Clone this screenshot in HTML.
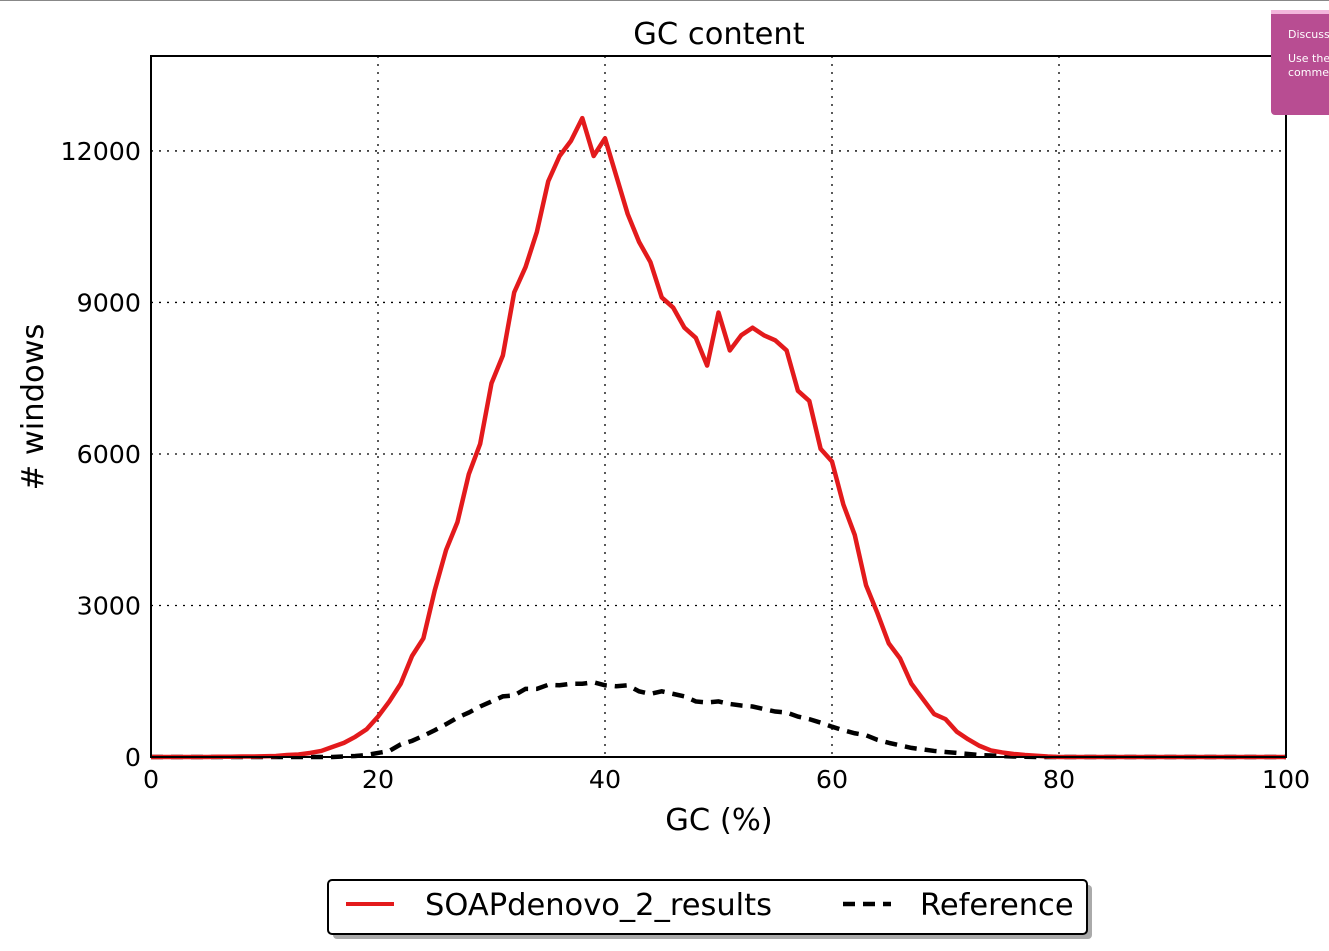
<!DOCTYPE html>
<html><head><meta charset="utf-8"><style>
body{margin:0;background:#fff;width:1329px;height:951px;overflow:hidden;font-family:"DejaVu Sans","Liberation Sans",sans-serif}
svg{position:absolute;left:0;top:0}
</style></head><body>
<svg width="1329" height="951">
<line x1="0" y1="0.5" x2="1329" y2="0.5" stroke="#888"/>
<text x="719" y="44" text-anchor="middle" font-size="30.5">GC content</text>
<g id="grid"></g>
<g id="series"></g>
<rect x="151" y="56" width="1135" height="701" fill="none" stroke="#000" stroke-width="2"/>
<g id="ticks" font-size="25.3"></g>
<text x="719" y="830" text-anchor="middle" font-size="30.5">GC (%)</text>
<text transform="translate(43,407) rotate(-90)" text-anchor="middle" font-size="30.5"># windows</text>
<rect x="333" y="885" width="759" height="54" rx="4" fill="#aaa"/>
<rect x="328" y="880" width="759" height="54" rx="4" fill="#fff" stroke="#000" stroke-width="2"/>
<line x1="346" y1="904" x2="394" y2="904" stroke="#e31a1c" stroke-width="4"/>
<text x="425" y="915" font-size="30.5">SOAPdenovo_2_results</text>
<line x1="843" y1="904" x2="891" y2="904" stroke="#000" stroke-width="4.5" stroke-dasharray="12,8"/>
<text x="920" y="915" font-size="30.5">Reference</text>
<g>
<rect x="1271" y="10" width="70" height="105" rx="4" fill="#b84d92"/>
<rect x="1271" y="10" width="70" height="4" fill="#f3b6dc"/>
<text x="1288" y="38" font-size="11" fill="#fff">Discuss</text>
<text x="1288" y="62" font-size="11" fill="#fff">Use the</text>
<text x="1288" y="76" font-size="11" fill="#fff">comme</text>
</g>
</svg>
<script>
const soapValues=[0,0,0,0,0,0,5,5,10,10,15,20,40,50,80,120,200,280,400,550,800,1100,1450,2000,2350,3300,4100,4650,5600,6200,7400,7950,9200,9700,10400,11400,11900,12200,12650,11900,12250,11500,10750,10200,9800,9100,8900,8500,8300,7750,8800,8050,8350,8500,8350,8250,8050,7250,7050,6100,5850,5000,4400,3400,2850,2250,1950,1450,1150,850,750,500,350,220,130,90,60,40,25,10,0,0,0,0,0,0,0,0,0,0,0,0,0,0,0,0,0,0,0,0,0];
const refValues=[0,0,0,0,0,0,0,0,0,0,0,0,0,0,0,0,0,10,20,40,80,120,250,320,420,530,650,780,880,1000,1100,1200,1220,1350,1350,1430,1420,1450,1450,1480,1420,1400,1420,1300,1250,1300,1250,1200,1100,1080,1100,1050,1020,1000,950,900,880,800,750,680,600,530,470,430,340,280,230,180,150,120,100,80,60,40,30,20,10,5,0,0,0,0,0,0,0,0,0,0,0,0,0,0,0,0,0,0,0,0,0,0,0];
const xTicks=[0,20,40,60,80,100];
const yTicks=[0,3000,6000,9000,12000];
const NS="http://www.w3.org/2000/svg";
const X=v=>151+v*11.35, Y=v=>757-v*701/13880;
function mk(t,a,p){const e=document.createElementNS(NS,t);for(const k in a)e.setAttribute(k,a[k]);p.appendChild(e);return e;}
const grid=document.getElementById('grid'),ticks=document.getElementById('ticks'),series=document.getElementById('series');
xTicks.forEach(t=>{
 if(t>0&&t<100){const l=mk('line',{x1:X(t),x2:X(t),y1:56,y2:757,stroke:'#000','stroke-width':1.3,'stroke-dasharray':'2,6'},grid);
 
 }
 const s=mk('text',{x:X(t),y:788,'text-anchor':'middle'},ticks);s.textContent=t;
 
 
});
yTicks.forEach(t=>{
 if(t>0){const l=mk('line',{x1:151,x2:1286,y1:Y(t),y2:Y(t),stroke:'#000','stroke-width':1.3,'stroke-dasharray':'2,6'},grid);
 
 }
 const s=mk('text',{x:141,y:Y(t)+9,'text-anchor':'end'},ticks);s.textContent=t;
 
 
});
const pts=a=>a.map((v,i)=>X(i)+','+Y(v)).join(' ');
const r=mk('polyline',{points:pts(refValues),fill:'none',stroke:'#000','stroke-width':4.5,'stroke-dasharray':'12,8'},series);


const s=mk('polyline',{points:pts(soapValues),fill:'none',stroke:'#e31a1c','stroke-width':4.5,'stroke-linejoin':'round'},series);


</script>
</body></html>
